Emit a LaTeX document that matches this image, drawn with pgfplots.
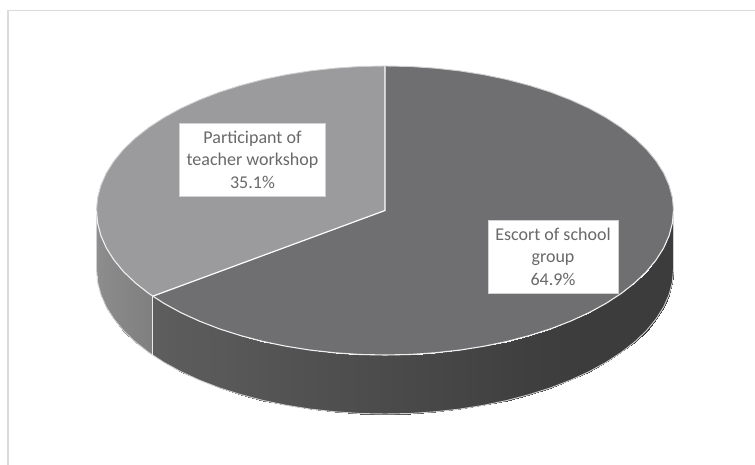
\documentclass[border=0pt]{standalone}
\usepackage{fontspec}
\setmainfont{Carlito}
\usepackage{pgfplots}
\pgfplotsset{compat=1.18}

\definecolor{darkslice}{RGB}{111,111,114}
\definecolor{lightslice}{RGB}{155,155,158}
\definecolor{rim}{RGB}{208,208,208}
\definecolor{labeltext}{RGB}{105,105,105}
\tikzset{lab/.style={fill=white,draw=black!18,line width=0.8pt,align=center,
    text=labeltext,font=\fontsize{18}{22.5}\selectfont,inner sep=0pt}}

\begin{document}
\begin{tikzpicture}
\path[use as bounding box] (0,0) rectangle (755pt,465pt);
\begin{axis}[
  at={(0,0)}, anchor=south west,
  scale only axis, width=755pt, height=465pt,
  xmin=0, xmax=755, ymin=0, ymax=465, y dir=reverse,
  hide axis, clip=false,
  no marks,
  colormap={greys}{gray=(0) gray=(1)},
  point meta min=0, point meta max=255
]
% chart frame
\addplot[color=black!14,line width=1.5pt] coordinates {(8,465) (8,10.5) (755,10.5)};

% wall, dark part: top arc then bottom arc, c = grey level
\addplot[surf,shader=interp,mesh/rows=2,point meta=explicit] table[x=x,y=y,meta=c] {
x y c
673.5 210.5 60
672.4 223.1 60
669.1 235.6 60
663.7 247.9 60
656.1 259.9 60
646.5 271.6 60
634.8 282.8 60
621.3 293.4 60
606.0 303.4 60
589.0 312.7 60
570.4 321.2 61
550.5 328.9 62
529.3 335.6 63
506.9 341.5 65
483.7 346.3 67
459.7 350.1 69
435.1 352.8 71
410.2 354.5 73
385.0 355.0 75
359.8 354.5 77
334.9 352.8 79
310.3 350.1 81
286.3 346.3 83
263.1 341.5 85
240.7 335.6 87
219.5 328.9 89
199.6 321.2 90
181.0 312.7 91
164.0 303.4 93
152.8 296.2 94
673.5 269.5 60
672.4 282.1 60
669.1 294.6 60
663.7 306.9 60
656.1 318.9 60
646.5 330.6 60
634.8 341.8 60
621.3 352.4 60
606.0 362.4 60
589.0 371.7 60
570.4 380.2 61
550.5 387.9 62
529.3 394.6 63
506.9 400.5 65
483.7 405.3 67
459.7 409.1 69
435.1 411.8 71
410.2 413.5 73
385.0 414.0 75
359.8 413.5 77
334.9 411.8 79
310.3 409.1 81
286.3 405.3 83
263.1 400.5 85
240.7 394.6 87
219.5 387.9 89
199.6 380.2 90
181.0 371.7 91
164.0 362.4 93
152.8 355.2 94
};
% wall, light part
\addplot[surf,shader=interp,mesh/rows=2,point meta=explicit] table[x=x,y=y,meta=c] {
x y c
152.8 296.2 126
148.7 293.4 128
135.2 282.8 131
123.5 271.6 134
113.9 259.9 136
106.3 247.9 138
100.9 235.6 140
97.6 223.1 141
96.5 210.5 142
152.8 355.2 126
148.7 352.4 128
135.2 341.8 131
123.5 330.6 134
113.9 318.9 136
106.3 306.9 138
100.9 294.6 140
97.6 282.1 141
96.5 269.5 142
};

% bottom rim of the wall
\addplot[color=rim,line width=0.9pt] coordinates {(96.5,210.5) (96.5,269.5) (97.6,282.1) (100.9,294.6) (106.3,306.9) (113.9,318.9) (123.5,330.6) (135.2,341.8) (148.7,352.4) (164.0,362.4) (181.0,371.7) (199.6,380.2) (219.5,387.9) (240.7,394.6) (263.1,400.5) (286.3,405.3) (310.3,409.1) (334.9,411.8) (359.8,413.5) (385.0,414.0) (410.2,413.5) (435.1,411.8) (459.7,409.1) (483.7,405.3) (506.9,400.5) (529.3,394.6) (550.5,387.9) (570.4,380.2) (589.0,371.7) (606.0,362.4) (621.3,352.4) (634.8,341.8) (646.5,330.6) (656.1,318.9) (663.7,306.9) (669.1,294.6) (672.4,282.1) (673.5,269.5) (673.5,210.5)};
\addplot[color=black!8,line width=1pt] coordinates {(152.8,296.2) (152.8,355.2)};

% top: 35.1 %
\addplot[fill=lightslice,draw=none] coordinates {(385,210.5) (385,66) (359.8,66.5) (334.9,68.2) (310.3,70.9) (286.3,74.7) (263.1,79.5) (240.7,85.4) (219.5,92.1) (199.6,99.8) (181.0,108.3) (164.0,117.6) (148.7,127.6) (135.2,138.2) (123.5,149.4) (113.9,161.1) (106.3,173.1) (100.9,185.4) (97.6,197.9) (96.5,210.5) (97.6,223.1) (100.9,235.6) (106.3,247.9) (113.9,259.9) (123.5,271.6) (135.2,282.8) (148.7,293.4) (152.8,296.2)} -- cycle;
% top: 64.9 %
\addplot[fill=darkslice,draw=none] coordinates {(385,210.5) (152.8,296.2) (164.0,303.4) (181.0,312.7) (199.6,321.2) (219.5,328.9) (240.7,335.6) (263.1,341.5) (286.3,346.3) (310.3,350.1) (334.9,352.8) (359.8,354.5) (385,355) (410.2,354.5) (435.1,352.8) (459.7,350.1) (483.7,346.3) (506.9,341.5) (529.3,335.6) (550.5,328.9) (570.4,321.2) (589.0,312.7) (606.0,303.4) (621.3,293.4) (634.8,282.8) (646.5,271.6) (656.1,259.9) (663.7,247.9) (669.1,235.6) (672.4,223.1) (673.5,210.5) (672.4,197.9) (669.1,185.4) (663.7,173.1) (656.1,161.1) (646.5,149.4) (634.8,138.2) (621.3,127.6) (606.0,117.6) (589.0,108.3) (570.4,99.8) (550.5,92.1) (529.3,85.4) (506.9,79.5) (483.7,74.7) (459.7,70.9) (435.1,68.2) (410.2,66.5) (385,66)} -- cycle;

% white edges
\addplot[color=white,line width=1.2pt] coordinates {(385,66) (385,210.5) (152.8,296.2)};
\addplot[color=black!6,line width=1.1pt] coordinates {(96.5,210.5) (97.6,223.1) (100.9,235.6) (106.3,247.9) (113.9,259.9) (123.5,271.6) (135.2,282.8) (148.7,293.4) (164.0,303.4) (181.0,312.7) (199.6,321.2) (219.5,328.9) (240.7,335.6) (263.1,341.5) (286.3,346.3) (310.3,350.1) (334.9,352.8) (359.8,354.5) (385,355) (410.2,354.5) (435.1,352.8) (459.7,350.1) (483.7,346.3) (506.9,341.5) (529.3,335.6) (550.5,328.9) (570.4,321.2) (589.0,312.7) (606.0,303.4) (621.3,293.4) (634.8,282.8) (646.5,271.6) (656.1,259.9) (663.7,247.9) (669.1,235.6) (672.4,223.1) (673.5,210.5)};
\addplot[color=rim,line width=0.9pt] coordinates {(96.5,210.5) (97.6,197.9) (100.9,185.4) (106.3,173.1) (113.9,161.1) (123.5,149.4) (135.2,138.2) (148.7,127.6) (164.0,117.6) (181.0,108.3) (199.6,99.8) (219.5,92.1) (240.7,85.4) (263.1,79.5) (286.3,74.7) (310.3,70.9) (334.9,68.2) (359.8,66.5) (385,66) (410.2,66.5) (435.1,68.2) (459.7,70.9) (483.7,74.7) (506.9,79.5) (529.3,85.4) (550.5,92.1) (570.4,99.8) (589.0,108.3) (606.0,117.6) (621.3,127.6) (634.8,138.2) (646.5,149.4) (656.1,161.1) (663.7,173.1) (669.1,185.4) (672.4,197.9) (673.5,210.5)};

% labels
\node[lab,minimum width=146pt,minimum height=73pt] at (axis cs:252.5,159.5) {Participant of\\teacher workshop\\35.1\%};
\node[lab,minimum width=130pt,minimum height=73pt] at (axis cs:553,256.5) {Escort of school\\group\\64.9\%};
\end{axis}
\end{tikzpicture}
\end{document}
